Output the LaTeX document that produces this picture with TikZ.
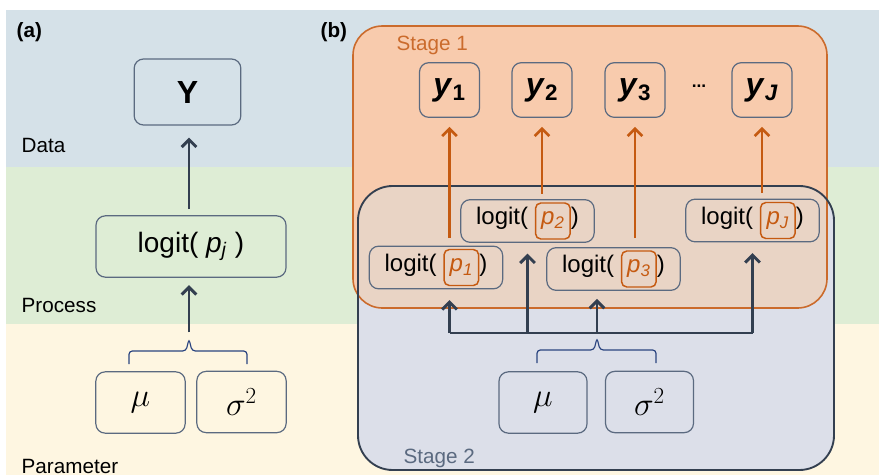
\documentclass[tikz,border=0pt]{standalone}
\usepackage{fontspec}
\setmainfont{Liberation Sans}
\usetikzlibrary{arrows.meta}

\definecolor{databand}{HTML}{D5E1E8}
\definecolor{procband}{HTML}{DEEDD5}
\definecolor{parband}{HTML}{FEF6E1}
\definecolor{stageone}{HTML}{F8CBAD}
\definecolor{stagetwo}{HTML}{DCDFE9}
\definecolor{overlap}{HTML}{E9D4C5}
\definecolor{rust}{HTML}{C55A11}
\definecolor{rustline}{HTML}{CB6B2C}
\definecolor{slate}{HTML}{333F50}
\definecolor{boxline}{HTML}{5B6A80}
\definecolor{navy}{HTML}{2A4480}

\tikzset{
  box/.style={draw=boxline, rounded corners=7pt, line width=0.9pt, inner sep=0pt},
  pbox/.style={draw=rust, rounded corners=4pt, line width=1.1pt, inner sep=0pt,
    minimum width=26pt, minimum height=27pt, text=rust},
  darkarrow/.style={draw=slate, line width=2.2pt, -{Straight Barb[length=5.5pt,width=11pt]}},
  darkline/.style={draw=slate, line width=2.2pt},
  orangearrow/.style={draw=rust, line width=2pt, -{Straight Barb[length=5.5pt,width=11pt]}},
  bracket/.style={draw=navy, line width=0.9pt, rounded corners=2.5pt},
  bandlabel/.style={anchor=base west, font=\fontsize{15.5}{18}\selectfont},
}
\newcommand{\pin}[1]{\tikz[baseline=(pv.base)]\node[pbox](pv){\itshape #1};}

\begin{document}
\begin{tikzpicture}[x=0.75pt,y=-0.75pt]
\useasboundingbox (0,0) rectangle (879,475);
\fill[white] (0,0) rectangle (879,475);
\fill[databand] (6,10) rectangle (879,167);
\fill[procband] (6,167) rectangle (879,324);
\fill[parband] (6,324) rectangle (879,475);

\node[anchor=west, font=\fontsize{15.5}{18}\selectfont\bfseries] (lba) at (12,32) {(a)};
\node[anchor=west, font=\fontsize{15.5}{18}\selectfont\bfseries] (lbb) at (316,32) {(b)};
\node[bandlabel] (data) at (17,152) {Data};
\node[bandlabel] (proc) at (17,312) {Process};
\node[bandlabel] (par) at (17,473) {Parameter};

% panel (a)
\node[box, minimum width=80pt, minimum height=49.5pt, font=\fontsize{24}{28}\selectfont\bfseries]
  (Y) at (187.5,92) {Y};
\node[box, minimum width=142.5pt, minimum height=46pt, font=\fontsize{21}{25}\selectfont]
  (lpa) at (191,246.5) {logit( \textit{p}\textsubscript{\textit{j}} )};
\node[box, minimum width=67pt, minimum height=46pt, font=\fontsize{24}{28}\selectfont]
  (mua) at (140.5,402.5) {$\mu$};
\node[box, minimum width=67pt, minimum height=46pt, font=\fontsize{24}{28}\selectfont]
  (sga) at (241.5,402) {$\sigma^2$};
\coordinate (tipa) at (189,339);
\draw[darkarrow, shorten <=4.5pt, shorten >=9pt] (lpa.north -| tipa) -- (Y.south -| tipa);
\draw[darkarrow, shorten <=5pt, shorten >=5.5pt] (tipa) -- (lpa.south -| tipa);
\draw[bracket] (129,364) -- (129,351) -- (186,351) -- (tipa) -- (192,351) -- (247,351) -- (247,364);

% panel (b)
\fill[stagetwo, rounded corners=26pt] (358,186) rectangle (834,470);
\fill[stageone, rounded corners=22pt] (353,26) rectangle (827,308);
\begin{scope}
  \clip[rounded corners=26pt] (358,186) rectangle (834,470);
  \fill[overlap, rounded corners=22pt] (353,26) rectangle (827,308);
\end{scope}
\draw[rustline, line width=1.2pt, rounded corners=22pt] (353,26) rectangle (827,308);
\draw[slate, line width=1.4pt, rounded corners=26pt] (358,186) rectangle (834,470);
\node[anchor=west, text=rustline, font=\fontsize{15.5}{18}\selectfont] (st1) at (392,45) {Stage 1};
\node[anchor=base west, text=boxline, font=\fontsize{15.5}{18}\selectfont] (st2) at (399,463) {Stage 2};

\foreach \nm/\xx/\sub in {y1/449.5/\textbf{1}, y2/542/\textbf{2}, y3/635/\textbf{3}, yJ/762/\textbf{\textit{J}}}
  \node[box, minimum width=45pt, minimum height=41pt, font=\fontsize{24}{28}\selectfont]
    (\nm) at (\xx,90) {\textbf{\textit{y}}\textsubscript{\sub}};
\node[font=\fontsize{13}{15}\selectfont\bfseries] (dots) at (699,86) {...};

\node[box, minimum width=100pt, minimum height=32pt, font=\fontsize{18}{22}\selectfont]
  (lp1) at (436,267.5) {logit( \pin{p\textsubscript{1}})};
\node[box, minimum width=100pt, minimum height=32pt, font=\fontsize{18}{22}\selectfont]
  (lp2) at (527.5,221) {logit( \pin{p\textsubscript{2}})};
\node[box, minimum width=100pt, minimum height=32pt, font=\fontsize{18}{22}\selectfont]
  (lp3) at (613.5,269) {logit( \pin{p\textsubscript{3}})};
\node[box, minimum width=100pt, minimum height=32pt, font=\fontsize{18}{22}\selectfont]
  (lpJ) at (752.5,220.5) {logit( \pin{p\textsubscript{J}})};

\node[box, minimum width=66pt, minimum height=46pt, font=\fontsize{24}{28}\selectfont]
  (mub) at (543,402.5) {$\mu$};
\node[box, minimum width=66pt, minimum height=46pt, font=\fontsize{24}{28}\selectfont]
  (sgb) at (649.5,402) {$\sigma^2$};

\draw[orangearrow, shorten <=4pt, shorten >=6.75pt] (y1 |- lp1.north) ++(0,-2) -- (y1.south);
\draw[orangearrow, shorten <=4pt, shorten >=6.75pt] (y2 |- lp2.north) -- (y2.south);
\draw[orangearrow, shorten <=4pt, shorten >=6.75pt] (y3 |- lp3.north) ++(0,-3.5) -- (y3.south);
\draw[orangearrow, shorten <=4pt, shorten >=6.75pt] (yJ |- lpJ.north) -- (yJ.south);

\coordinate (hub) at (597,333);
\draw[darkline] (y1 |- hub) -- (lpJ |- hub);
\draw[darkarrow, shorten >=8pt] (y1 |- hub) -- (y1 |- lp1.south);
\draw[darkarrow, shorten >=8pt] (lp2 |- hub) -- (lp2.south);
\draw[darkarrow, shorten >=6pt] (hub) -- (hub |- lp3.south);
\draw[darkarrow, shorten >=8pt] (lpJ |- hub) -- (lpJ.south);
\coordinate (tipb) at (597,338);
\draw[bracket] (537,363) -- (537,350) -- (594,350) -- (tipb) -- (600,350) -- (656,350) -- (656,363);
\end{tikzpicture}
\end{document}
